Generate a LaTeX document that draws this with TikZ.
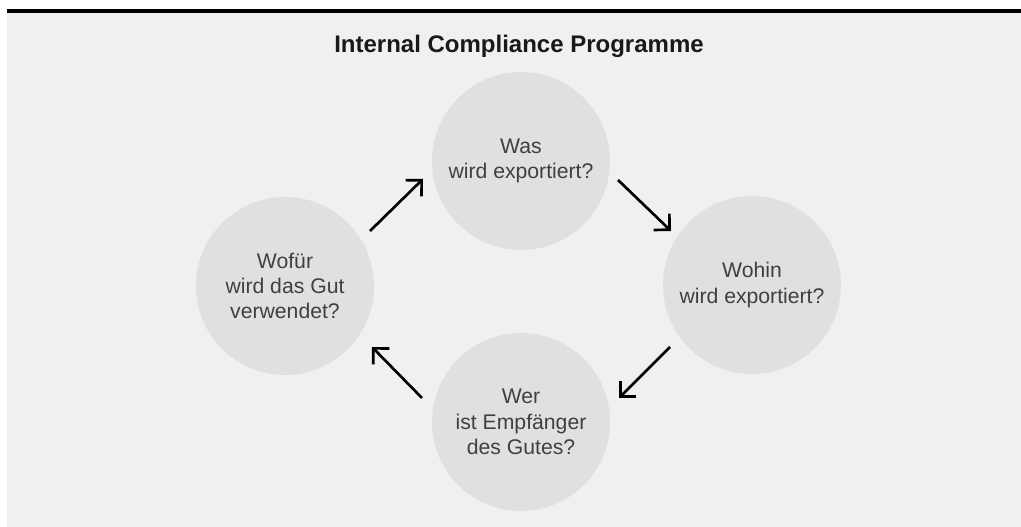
\documentclass[tikz,border=0pt]{standalone}
\usepackage{fontspec}
\setmainfont{Liberation Sans}
\usetikzlibrary{arrows.meta}
\definecolor{pagebg}{HTML}{F0F0F0}
\definecolor{discfill}{HTML}{DFE0DF}
\definecolor{disctext}{HTML}{404040}
\tikzset{
  disc/.style={circle, fill=discfill, minimum size=133.5pt, inner sep=0pt,
    align=center, text=disctext,
    font=\fontsize{15.9pt}{18.9pt}\selectfont},
  flow/.style={line width=2pt, line cap=butt,
    -{Straight Barb[length=8.5pt, width=17pt, line width=2pt, sharp]}},
  heading/.style={font=\fontsize{18pt}{21pt}\selectfont\bfseries, text=black!90}
}
\begin{document}
\begin{tikzpicture}[x=0.75pt, y=0.75pt]
  \useasboundingbox (0,0) rectangle (1021,527);
  % panel and top rule
  \fill[pagebg] (7,0) rectangle (1021,514.3);
  \fill[black] (7,514.3) rectangle (1021,518);
  % heading
  \node[heading] (title) at (519,480.5) {Internal Compliance Programme};
  % the four questions
  \node[disc] (was)   at (521,366) {Was\\wird exportiert?};
  \node[disc] (wohin) at (752,242) {Wohin\\wird exportiert?};
  \node[disc] (wer)   at (521,105) {Wer\\ist Empfänger\\des Gutes?};
  \node[disc] (wofuer) at (285,241) {Wofür\\wird das Gut\\verwendet?};
  % cycle arrows
  \draw[flow] ([shift={(85,55)}]wofuer.center) -- ([shift={(-98,-18)}]was.center);
  \draw[flow] ([shift={(97,-19)}]was.center) -- ([shift={(-81,54)}]wohin.center);
  \draw[flow] ([shift={(-82,-62)}]wohin.center) -- ([shift={(98,24)}]wer.center);
  \draw[flow] ([shift={(-99,24)}]wer.center) -- ([shift={(87,-61)}]wofuer.center);
\end{tikzpicture}
\end{document}
